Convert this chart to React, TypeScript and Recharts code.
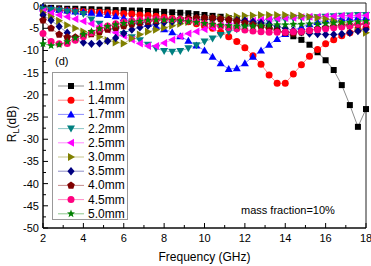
import React from 'react';
import { LineChart, Line, XAxis, YAxis, ReferenceArea, Legend } from 'recharts';

const FREQ = [2, 2.4, 2.8, 3.2, 3.6, 4, 4.4, 4.8, 5.2, 5.6, 6, 6.4, 6.8, 7.2, 7.6, 8, 8.4, 8.8, 9.2, 9.6, 10, 10.4, 10.8, 11.2, 11.6, 12, 12.4, 12.8, 13.2, 13.6, 14, 14.4, 14.8, 15.2, 15.6, 16, 16.4, 16.8, 17.2, 17.6, 18];

const RL_1_1 = [-0.3, -0.4, -0.5, -0.6, -0.6, -0.7, -0.7, -0.8, -0.8, -0.9, -0.9, -1.0, -1.0, -1.1, -1.2, -1.3, -1.4, -1.5, -1.6, -1.8, -2.0, -2.2, -2.4, -2.7, -3.0, -3.3, -3.7, -4.2, -4.8, -5.4, -6.1, -6.8, -7.6, -8.7, -10.4, -12.2, -14.4, -17.8, -22.3, -27.2, -23.2];
const RL_1_4 = [-0.6, -0.8, -0.9, -1.0, -1.1, -1.2, -1.3, -1.4, -1.5, -1.6, -1.7, -1.8, -2.0, -2.1, -2.3, -2.5, -2.8, -3.1, -3.5, -4.0, -4.5, -5.0, -5.9, -6.9, -8.0, -9.4, -11.2, -13.1, -15.5, -17.4, -17.4, -15.3, -13.2, -11.3, -9.8, -8.5, -7.6, -6.7, -6.0, -5.4, -4.9];
const RL_1_7 = [-0.3, -0.6, -0.8, -1.0, -1.2, -1.3, -1.5, -1.7, -2.0, -2.3, -2.7, -3.1, -3.5, -4.0, -4.6, -5.2, -5.9, -6.8, -7.8, -8.9, -10.0, -11.4, -12.9, -14.2, -14.0, -12.9, -11.4, -10.0, -8.7, -7.4, -6.3, -5.4, -4.7, -4.1, -3.6, -3.2, -2.9, -2.7, -2.6, -2.5, -2.5];
const RL_2_2 = [-0.6, -0.8, -1.0, -1.2, -1.4, -1.8, -3.0, -4.0, -4.9, -5.6, -6.3, -7.0, -7.7, -8.7, -9.5, -10.1, -10.3, -10.1, -9.5, -8.8, -8.0, -7.3, -6.5, -5.8, -5.2, -4.7, -4.2, -3.8, -3.5, -3.2, -3.0, -2.8, -2.7, -2.6, -2.5, -2.4, -2.3, -2.2, -2.1, -2.0, -2.0];
const RL_2_5 = [-1.2, -1.6, -2.0, -2.4, -2.9, -3.4, -4.0, -4.6, -5.3, -6.0, -6.7, -7.6, -8.4, -9.0, -9.0, -8.3, -7.6, -6.8, -6.2, -5.7, -5.2, -4.8, -4.4, -4.1, -3.8, -3.5, -3.3, -3.1, -2.9, -2.8, -2.7, -2.6, -2.5, -2.4, -2.4, -2.3, -2.3, -2.2, -2.2, -2.2, -2.1];
const RL_3_0 = [-1.5, -2.4, -3.3, -4.3, -5.0, -5.7, -6.3, -6.9, -7.7, -8.2, -8.4, -7.3, -6.4, -5.8, -5.3, -4.9, -4.4, -4.0, -3.6, -3.3, -3.0, -2.8, -2.6, -2.4, -2.3, -2.2, -2.1, -2.0, -2.0, -2.0, -2.0, -2.1, -2.2, -2.4, -2.6, -2.9, -3.3, -3.8, -4.4, -5.2, -6.0];
const RL_3_5 = [-2.0, -3.2, -4.6, -6.0, -7.5, -8.2, -8.5, -8.4, -7.9, -7.2, -6.1, -5.3, -4.8, -4.4, -4.0, -3.7, -3.5, -3.3, -3.2, -3.1, -3.0, -3.0, -3.0, -3.1, -3.2, -3.3, -3.5, -3.8, -4.1, -4.6, -5.0, -5.5, -5.9, -6.2, -6.3, -6.4, -6.4, -6.3, -6.0, -5.6, -5.2];
const RL_4_0 = [-3.2, -5.0, -6.4, -7.0, -7.0, -6.7, -6.3, -5.8, -5.3, -4.9, -4.5, -4.1, -3.8, -3.5, -3.3, -3.1, -3.0, -2.9, -2.8, -2.7, -2.7, -2.7, -2.9, -3.1, -3.4, -3.8, -4.2, -4.6, -5.1, -5.6, -6.0, -6.1, -5.9, -5.5, -5.1, -4.8, -4.6, -4.4, -4.3, -4.2, -4.1];
const RL_4_5 = [-6.2, -8.0, -8.5, -8.4, -7.7, -6.9, -6.0, -5.2, -4.5, -4.0, -3.6, -3.3, -3.1, -3.0, -2.9, -2.9, -3.0, -3.1, -3.3, -3.6, -3.9, -4.2, -4.5, -4.8, -5.1, -5.4, -5.6, -5.8, -5.9, -5.9, -5.9, -5.8, -5.7, -5.5, -5.3, -5.1, -4.9, -4.7, -4.4, -4.1, -3.9];
const RL_5_0 = [-8.5, -8.9, -8.7, -8.0, -7.2, -6.4, -5.7, -5.1, -4.6, -4.2, -3.9, -3.6, -3.4, -3.2, -3.1, -3.1, -3.2, -3.3, -3.5, -3.7, -3.9, -4.1, -4.3, -4.4, -4.5, -4.5, -4.5, -4.4, -4.3, -4.2, -4.2, -4.1, -4.1, -4.0, -4.0, -3.9, -3.8, -3.7, -3.6, -3.5, -3.4];

const X_TICKS = [2, 3, 4, 5, 6, 7, 8, 9, 10, 11, 12, 13, 14, 15, 16, 17, 18];
const Y_TICKS = [-50, -47.5, -45, -42.5, -40, -37.5, -35, -32.5, -30, -27.5, -25, -22.5, -20, -17.5, -15, -12.5, -10, -7.5, -5, -2.5, 0];

const SERIES = [
  { key: 's11', name: '1.1mm', color: '#000000', shape: 'square', values: RL_1_1 },
  { key: 's14', name: '1.4mm', color: '#ff0000', shape: 'circle', values: RL_1_4 },
  { key: 's17', name: '1.7mm', color: '#0000ff', shape: 'up', values: RL_1_7 },
  { key: 's22', name: '2.2mm', color: '#008080', shape: 'down', values: RL_2_2 },
  { key: 's25', name: '2.5mm', color: '#ff00ff', shape: 'left', values: RL_2_5 },
  { key: 's30', name: '3.0mm', color: '#808000', shape: 'right', values: RL_3_0 },
  { key: 's35', name: '3.5mm', color: '#000080', shape: 'diamond', values: RL_3_5 },
  { key: 's40', name: '4.0mm', color: '#800000', shape: 'pentagon', values: RL_4_0 },
  { key: 's45', name: '4.5mm', color: '#ff0080', shape: 'circle', values: RL_4_5 },
  { key: 's50', name: '5.0mm', color: '#008000', shape: 'star', values: RL_5_0 },
];

const data = FREQ.map((f, i) => {
  const row: Record<string, number> = { f };
  SERIES.forEach((s) => (row[s.key] = s.values[i]));
  return row;
});

const polyPoints = (cx: number, cy: number, n: number, r1: number, r2: number) => {
  const pts: string[] = [];
  const count = r2 > 0 ? n * 2 : n;
  for (let i = 0; i < count; i++) {
    const r = r2 > 0 && i % 2 === 1 ? r2 : r1;
    const a = -Math.PI / 2 + (i * 2 * Math.PI) / count;
    pts.push(`${cx + r * Math.cos(a)},${cy + r * Math.sin(a)}`);
  }
  return pts.join(' ');
};

const Marker = ({ shape, cx, cy, color }: { shape: string; cx: number; cy: number; color: string }) => {
  switch (shape) {
    case 'square':
      return <rect x={cx - 3} y={cy - 3} width={6} height={6} fill={color} />;
    case 'circle':
      return <circle cx={cx} cy={cy} r={3.5} fill={color} />;
    case 'up':
      return <polygon points={`${cx},${cy - 4} ${cx + 4},${cy + 3} ${cx - 4},${cy + 3}`} fill={color} />;
    case 'down':
      return <polygon points={`${cx},${cy + 4} ${cx + 4},${cy - 3} ${cx - 4},${cy - 3}`} fill={color} />;
    case 'left':
      return <polygon points={`${cx - 4},${cy} ${cx + 3},${cy - 4} ${cx + 3},${cy + 4}`} fill={color} />;
    case 'right':
      return <polygon points={`${cx + 4},${cy} ${cx - 3},${cy - 4} ${cx - 3},${cy + 4}`} fill={color} />;
    case 'diamond':
      return <polygon points={`${cx},${cy - 4.2} ${cx + 3.6},${cy} ${cx},${cy + 4.2} ${cx - 3.6},${cy}`} fill={color} />;
    case 'pentagon':
      return <polygon points={polyPoints(cx, cy, 5, 4, 0)} fill={color} />;
    case 'star':
      return <polygon points={polyPoints(cx, cy, 5, 4.2, 1.8)} fill={color} />;
    default:
      return null;
  }
};

const XTick = (props: any) => {
  const { x, y, payload } = props;
  const major = payload.value % 2 === 0;
  return (
    <g>
      <line x1={x} x2={x} y1={y} y2={y - (major ? 5 : 3)} stroke="#000" />
      {major && (
        <text x={x} y={y + 14} textAnchor="middle" fontSize={11} fill="#000">
          {payload.value}
        </text>
      )}
    </g>
  );
};

const YTick = (props: any) => {
  const { x, y, payload } = props;
  const major = payload.value % 5 === 0;
  return (
    <g>
      <line x1={x} x2={x + (major ? 5 : 3)} y1={y} y2={y} stroke="#000" />
      {major && (
        <text x={x - 4} y={y + 4} textAnchor="end" fontSize={11} fill="#000">
          {payload.value}
        </text>
      )}
    </g>
  );
};

const YTitle = () => (
  <text x={16} y={124} transform="rotate(-90,16,124)" textAnchor="middle" fontSize={12} fill="#000">
    R<tspan dy={3} fontSize={9}>L</tspan>
    <tspan dy={-3}>(dB)</tspan>
  </text>
);

const LegendBox = () => (
  <div style={{ border: '1px solid #999', background: '#fff', width: 74, height: 146, boxSizing: 'content-box' }}>
    <svg width={74} height={146} style={{ display: 'block', overflow: 'visible' }}>
      {SERIES.map((s, i) => {
        const cy = 13 + i * 14.2;
        return (
          <g key={s.key}>
            <line x1={5} x2={31} y1={cy} y2={cy} stroke={s.color} strokeOpacity={0.45} />
            <Marker shape={s.shape} cx={18} cy={cy} color={s.color} />
            <text x={35} y={cy + 4} fontSize={12} fill="#000">
              {s.name}
            </text>
          </g>
        );
      })}
    </svg>
  </div>
);

export default function App() {
  return (
    <div style={{ position: 'absolute', left: 0, top: 0, width: 371, height: 266, background: '#fff', fontFamily: '"Liberation Sans", Arial, sans-serif' }}>
      <LineChart width={371} height={266} data={data} margin={{ top: 3, right: 5, bottom: 0, left: 0 }}>
        <ReferenceArea x1={2} x2={18} y1={-50} y2={0.7} fill="none" stroke="#222" ifOverflow="visible" />
        <XAxis
          dataKey="f"
          type="number"
          domain={[2, 18]}
          ticks={X_TICKS}
          interval={0}
          height={38}
          tickSize={0}
          tickMargin={0}
          tick={<XTick />}
          axisLine={{ stroke: '#000' }}
          label={{ value: 'Frequency (GHz)', position: 'insideBottom', offset: 5, fontSize: 12, fill: '#000' }}
        />
        <YAxis
          type="number"
          domain={[-50, 0.7]}
          ticks={Y_TICKS}
          interval={0}
          width={43}
          tickSize={0}
          tickMargin={0}
          tick={<YTick />}
          axisLine={{ stroke: '#000' }}
          label={{ content: () => <YTitle /> }}
        />
        <Legend
          layout="vertical"
          align="center"
          verticalAlign="middle"
          wrapperStyle={{ left: 52, top: 72, width: 76, height: 148 }}
          content={() => <LegendBox />}
        />
        {SERIES.map((s) => (
          <Line
            key={s.key}
            dataKey={s.key}
            name={s.name}
            type="linear"
            stroke={s.color}
            strokeOpacity={0.45}
            strokeWidth={1}
            isAnimationActive={false}
            activeDot={false}
            dot={(p: any) => <Marker key={`${s.key}-${p.index}`} shape={s.shape} cx={p.cx} cy={p.cy} color={s.color} />}
          />
        ))}
      </LineChart>
      <div style={{ position: 'absolute', left: 55, top: 55, fontSize: 11 }}>(d)</div>
      <div style={{ position: 'absolute', left: 241, top: 204, fontSize: 11 }}>mass fraction=10%</div>
    </div>
  );
}
